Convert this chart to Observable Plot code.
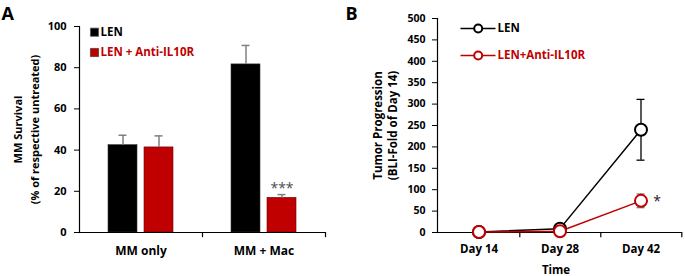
<!DOCTYPE html>
<html><head><meta charset="utf-8">
<script src="https://cdn.jsdelivr.net/npm/d3@7"></script>
<script src="https://cdn.jsdelivr.net/npm/@observablehq/plot@0.6"></script>
<style>
body{margin:0;background:#fff;}
#wrap{position:relative;width:685px;height:276px;font-family:"Open Sans",sans-serif;background:#fff;}
.panel{position:absolute;top:0;}
</style></head><body>
<div id="wrap">
<div id="a" class="panel" style="left:0"></div>
<div id="b" class="panel" style="left:340px"></div>
</div>
<script>
// ---- Panel A data ----
const panelA = "A";
const groups = ["MM only", "MM + Mac"];
const seriesA = ["LEN", "LEN + Anti-IL10R"];
const lenSurvival = [42.4, 81.6];
const lenSurvivalErr = [4.8, 9.2];
const antiSurvival = [41.3, 16.8];
const antiSurvivalErr = [5.6, 1.6];
const survivalSig = ["", "***"];
const yTicksA = [0, 20, 40, 60, 80, 100];
const yLabelA = "MM Survival\n(% of respective untreated)";

// ---- Panel B data ----
const panelB = "B";
const days = ["Day 14", "Day 28", "Day 42"];
const seriesB = ["LEN", "LEN+Anti-IL10R"];
const lenProg = [1, 9, 240];
const lenProgErr = [0.5, 3, 71];
const antiProg = [1, 3, 74];
const antiProgErr = [0.5, 1, 16];
const progSig = ["", "", "*"];
const yTicksB = [0, 50, 100, 150, 200, 250, 300, 350, 400, 450, 500];
const yLabelB = "Tumor Progression\n(BLI-Fold of Day 14)";
const xLabelB = "Time";

const RED = "#C00000";
const GREY = "#808080";

const rowsA = groups.map((g, i) => ({
  group: g,
  len: lenSurvival[i], lenErr: lenSurvivalErr[i],
  anti: antiSurvival[i], antiErr: antiSurvivalErr[i],
  sig: survivalSig[i]
}));

const styleBase = {fontFamily: '"Open Sans", sans-serif', fontWeight: "bold", fontSize: "11px", color: "#000", background: "transparent", overflow: "visible"};

const plotA = Plot.plot({
  width: 340, height: 276,
  marginLeft: 79, marginRight: 15, marginTop: 26, marginBottom: 44,
  style: styleBase,
  x: {domain: groups, padding: 0},
  y: {domain: [0, 100]},
  marks: [
    Plot.barY(rowsA, {x: "group", y: "len", fill: "black", stroke: "#333", strokeWidth: 0.6, insetLeft: 29, insetRight: 65}),
    Plot.barY(rowsA, {x: "group", y: "anti", fill: RED, stroke: "#6a0000", strokeWidth: 0.6, insetLeft: 65, insetRight: 29}),
    Plot.ruleX(rowsA, {x: "group", y1: "len", y2: d => d.len + d.lenErr, dx: -18, stroke: GREY, strokeWidth: 1.5}),
    Plot.tickY(rowsA, {x: "group", y: d => d.len + d.lenErr, insetLeft: 39.5, insetRight: 75.5, stroke: GREY, strokeWidth: 1.5}),
    Plot.ruleX(rowsA, {x: "group", y1: "anti", y2: d => d.anti + d.antiErr, dx: 18, stroke: GREY, strokeWidth: 1.5}),
    Plot.tickY(rowsA, {x: "group", y: d => d.anti + d.antiErr, insetLeft: 75.5, insetRight: 39.5, stroke: GREY, strokeWidth: 1.5}),
    Plot.text(rowsA, {x: "group", y: d => d.anti + d.antiErr, text: "sig", dx: 18, dy: -6, fill: "#4d4d4d", fontSize: 14, fontWeight: "normal"}),
    Plot.ruleY([0], {stroke: "black", strokeWidth: 1.2}),
    Plot.frame({anchor: "left", stroke: "black", strokeWidth: 1.2}),
    Plot.ruleX(groups, {x: d => d, dx: 61.5, y1: 0, y2: -2.5, stroke: "black", strokeWidth: 1.2}),
    Plot.axisY({ticks: yTicksA, tickSize: 5, tickPadding: 8, label: null, fontSize: 11}),
    Plot.axisX({tickSize: 0, tickPadding: 14, label: null, fontSize: 12}),
    Plot.text([yLabelA], {frameAnchor: "left", text: d => d, rotate: -90, dx: -54.5, lineHeight: 1.55, lineAnchor: "middle", textAnchor: "middle", fontSize: 11}),
    Plot.text([panelA], {frameAnchor: "top-left", text: d => d, dx: -78, dy: -6.5, textAnchor: "start", lineAnchor: "bottom", fontSize: 18}),
    // legend
    Plot.dot([seriesA[0]], {frameAnchor: "top-left", dx: 15, dy: 5.7, symbol: "square", r: 4.6, fill: "black", stroke: "#555", strokeWidth: 0.8}),
    Plot.text([seriesA[0]], {frameAnchor: "top-left", text: d => d, dx: 21, dy: 5.7, textAnchor: "start", lineAnchor: "middle", fontSize: 11.5}),
    Plot.dot([seriesA[1]], {frameAnchor: "top-left", dx: 15, dy: 26, symbol: "square", r: 4.6, fill: RED, stroke: "#444", strokeWidth: 0.8}),
    Plot.text([seriesA[1]], {frameAnchor: "top-left", text: d => d, dx: 21, dy: 26, textAnchor: "start", lineAnchor: "middle", fontSize: 11.5, fill: RED})
  ]
});
document.getElementById("a").appendChild(plotA);

const rowsB = days.flatMap((d, i) => [
  {day: d, series: seriesB[0], v: lenProg[i], e: lenProgErr[i], sig: ""},
  {day: d, series: seriesB[1], v: antiProg[i], e: antiProgErr[i], sig: progSig[i]}
]);
const lenRows = rowsB.filter(r => r.series === seriesB[0]);
const antiRows = rowsB.filter(r => r.series === seriesB[1]);

const plotB = Plot.plot({
  width: 345, height: 276,
  marginLeft: 97, marginRight: 3, marginTop: 18, marginBottom: 44,
  style: styleBase,
  x: {domain: days, padding: 0},
  y: {domain: [0, 500]},
  color: {domain: seriesB, range: ["black", RED]},
  marks: [
    Plot.ruleY([0], {stroke: "black", strokeWidth: 1.2}),
    Plot.frame({anchor: "left", stroke: "black", strokeWidth: 1.2}),
    Plot.ruleX(days, {x: d => d, dx: 40.8, y1: 0, y2: -12, stroke: "black", strokeWidth: 1.2}),
    Plot.axisY({ticks: yTicksB, tickSize: 5, tickPadding: 7, label: null, fontSize: 10.5}),
    Plot.axisX({tickSize: 0, tickPadding: 12, label: null, fontSize: 11.5}),
    Plot.ruleX(lenRows, {x: "day", y1: d => d.v - d.e, y2: d => d.v + d.e, stroke: "black", strokeWidth: 1.3}),
    Plot.tickY(lenRows, {x: "day", y: d => d.v + d.e, insetLeft: 36.5, insetRight: 36.5, stroke: "black", strokeWidth: 1.3}),
    Plot.tickY(lenRows, {x: "day", y: d => d.v - d.e, insetLeft: 36.5, insetRight: 36.5, stroke: "black", strokeWidth: 1.3}),
    Plot.ruleX(antiRows, {x: "day", y1: d => d.v - d.e, y2: d => d.v + d.e, stroke: GREY, strokeWidth: 1.3}),
    Plot.tickY(antiRows, {x: "day", y: d => d.v + d.e, insetLeft: 36.5, insetRight: 36.5, stroke: GREY, strokeWidth: 1.3}),
    Plot.tickY(antiRows, {x: "day", y: d => d.v - d.e, insetLeft: 36.5, insetRight: 36.5, stroke: GREY, strokeWidth: 1.3}),
    Plot.line(rowsB, {x: "day", y: "v", z: "series", stroke: "series", strokeWidth: 1.5}),
    Plot.dot(rowsB, {x: "day", y: "v", stroke: "series", fill: "white", r: 6, strokeWidth: 2}),
    Plot.text(rowsB, {x: "day", y: "v", text: "sig", dx: 16, dy: 1, fontSize: 14, fontWeight: "normal", fill: "#222"}),
    Plot.text([yLabelB], {frameAnchor: "left", text: d => d, rotate: -90, dx: -52.8, lineHeight: 1.3, lineAnchor: "middle", textAnchor: "middle", fontSize: 11.5}),
    Plot.text([xLabelB], {frameAnchor: "bottom", text: d => d, dy: 38, dx: -4, lineAnchor: "middle", fontSize: 11.5}),
    Plot.text([panelB], {frameAnchor: "top-left", text: d => d, dx: -92, dy: 1.5, textAnchor: "start", lineAnchor: "bottom", fontSize: 18}),
    // legend
    Plot.frame({fill: "black", stroke: null, insetLeft: 23, insetRight: 187, insetTop: 9.25, insetBottom: 203.25}),
    Plot.dot([seriesB[0]], {frameAnchor: "top-left", dx: 40.7, dy: 10, r: 4, fill: "white", stroke: "black", strokeWidth: 2}),
    Plot.text([seriesB[0]], {frameAnchor: "top-left", text: d => d, dx: 60, dy: 10, textAnchor: "start", lineAnchor: "middle", fontSize: 11.5}),
    Plot.frame({fill: RED, stroke: null, insetLeft: 23, insetRight: 187, insetTop: 36.25, insetBottom: 176.25}),
    Plot.dot([seriesB[1]], {frameAnchor: "top-left", dx: 40.7, dy: 37, r: 4, fill: "white", stroke: RED, strokeWidth: 2}),
    Plot.text([seriesB[1]], {frameAnchor: "top-left", text: d => d, dx: 60, dy: 37, textAnchor: "start", lineAnchor: "middle", fontSize: 11.5, fill: RED})
  ]
});
document.getElementById("b").appendChild(plotB);
</script>
</body></html>
